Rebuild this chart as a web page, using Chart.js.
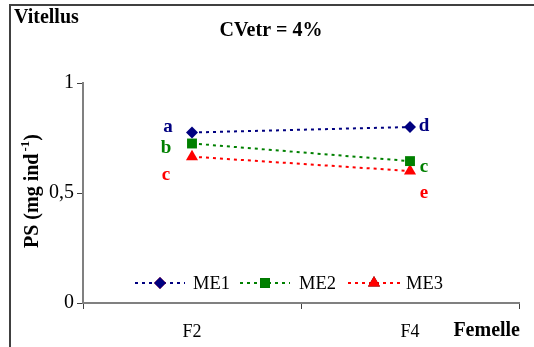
<!DOCTYPE html>
<html>
<head>
<meta charset="utf-8">
<script src="https://cdn.jsdelivr.net/npm/chart.js@4"></script>
<style>
  body { margin: 0; background: #fff; }
  #wrap { width: 534px; height: 347px; position: relative; }
</style>
</head>
<body>
<div id="wrap"><canvas id="vitellus" width="534" height="347"></canvas></div>
<script>
// values
const categories = ['F2', 'F4'];
const me1 = [0.775, 0.80];
const me2 = [0.725, 0.645];
const me3 = [0.665, 0.60];
const lettersME1 = ['a', 'd'];
const lettersME2 = ['b', 'c'];
const lettersME3 = ['c', 'e'];
const yTickLabels = { 0: '0', 0.5: '0,5', 1: '1' };

const serif = '"Liberation Serif", "Times New Roman", serif';

// letters beside the points: [dx, dy] per category
const letterOffsets = [
  [[-24, -5], [14, -1]],
  [[-26, 5], [14, 6]],
  [[-26, 18], [14, 22]]
];

// text, frame, legend
const extras = {
  id: 'extras',
  afterDraw(chart) {
    const c = chart.ctx;
    const xs = chart.scales.x, ys = chart.scales.y;
    c.save();

    // frame
    c.strokeStyle = '#404040';
    c.lineWidth = 2;
    c.beginPath();
    c.moveTo(10, 347);
    c.lineTo(10, 5);
    c.lineTo(534, 5);
    c.stroke();

    c.fillStyle = '#000';
    c.font = 'bold 20px ' + serif;
    c.textBaseline = 'middle';
    c.textAlign = 'left';
    c.fillText('Vitellus', 14, 18);
    c.textAlign = 'center';
    c.fillText('CVetr = 4%', 271, 31);
    c.textAlign = 'right';
    c.fillText('Femelle', 520, 331);

    // y title with superscript
    c.save();
    c.translate(33, 191);
    c.rotate(-Math.PI / 2);
    c.textAlign = 'left';
    const a = 'PS (mg ind', sup = '-1', b = ')';
    c.font = 'bold 20px ' + serif;
    const wa = c.measureText(a).width, wb = c.measureText(b).width;
    c.font = 'bold 13px ' + serif;
    const ws = c.measureText(sup).width;
    let x0 = -(wa + ws + 2 + wb) / 2;
    c.font = 'bold 20px ' + serif;
    c.fillText(a, x0, 0);
    c.font = 'bold 13px ' + serif;
    c.fillText(sup, x0 + wa + 2, -7);
    c.font = 'bold 20px ' + serif;
    c.fillText(b, x0 + wa + ws + 2, 0);
    c.restore();

    // significance letters
    const letters = [lettersME1, lettersME2, lettersME3];
    c.font = 'bold 19px ' + serif;
    c.textAlign = 'center';
    chart.data.datasets.forEach((ds, i) => {
      c.fillStyle = ds.borderColor;
      ds.data.forEach((v, j) => {
        const [dx, dy] = letterOffsets[i][j];
        c.fillText(letters[i][j], xs.getPixelForValue(j) + dx, ys.getPixelForValue(v) + dy);
      });
    });

    // legend inside the plot
    const ly = 283;
    const items = [[135, 185, 193], [240, 290, 299], [348, 400, 406]];
    chart.data.datasets.forEach((ds, i) => {
      const [l0, l1, tx] = items[i];
      c.strokeStyle = ds.borderColor;
      c.lineWidth = 2;
      c.setLineDash(ds.borderDash);
      c.beginPath();
      c.moveTo(l0, ly);
      c.lineTo(l1, ly);
      c.stroke();
      c.setLineDash([]);
      Chart.helpers.drawPoint(c, {
        pointStyle: ds.pointStyle, radius: ds.pointRadius, rotation: 0
      }, (l0 + l1) / 2, ly);
      c.fillStyle = ds.borderColor;
      c.fill();
      c.fillStyle = '#000';
      c.font = '18.5px ' + serif;
      c.textAlign = 'left';
      c.fillText(ds.label, tx, ly + 1);
    });
    c.restore();
  }
};

function series(label, data, color, style, r) {
  return {
    label: label,
    data: data,
    borderColor: color,
    backgroundColor: color,
    borderWidth: 2,
    borderDash: [3, 4],
    pointStyle: style,
    pointRadius: r,
    pointBorderWidth: 0,
    pointBackgroundColor: color,
    tension: 0
  };
}

new Chart(document.getElementById('vitellus'), {
  type: 'line',
  data: {
    labels: categories,
    datasets: [
      series('ME1', me1, '#000080', 'rectRot', 6),
      series('ME2', me2, '#008000', 'rect', 7),
      series('ME3', me3, '#ff0000', 'triangle', 7)
    ]
  },
  plugins: [extras],
  options: {
    responsive: false,
    animation: false,
    devicePixelRatio: 1,
    layout: { padding: { left: 0, right: 15, top: 83, bottom: 0 } },
    plugins: { legend: { display: false }, title: { display: false }, tooltip: { enabled: false } },
    scales: {
      x: {
        offset: true,
        grid: { offset: true, drawOnChartArea: false, drawTicks: true, tickLength: 6, color: '#404040', lineWidth: 1 },
        border: { color: '#808080', width: 2 },
        ticks: { color: '#000', font: { family: serif, size: 18 }, padding: 12 },
        afterFit(s) { s.height = 44; }
      },
      y: {
        min: 0,
        max: 1,
        grid: { drawOnChartArea: false, drawTicks: true, tickLength: 6, color: '#404040', lineWidth: 1 },
        border: { color: '#808080', width: 2 },
        ticks: {
          stepSize: 0.5,
          color: '#000',
          font: { family: serif, size: 20 },
          padding: 3,
          callback: v => yTickLabels[v]
        },
        afterFit(s) { s.width = 83; }
      }
    }
  }
});
</script>
</body>
</html>
